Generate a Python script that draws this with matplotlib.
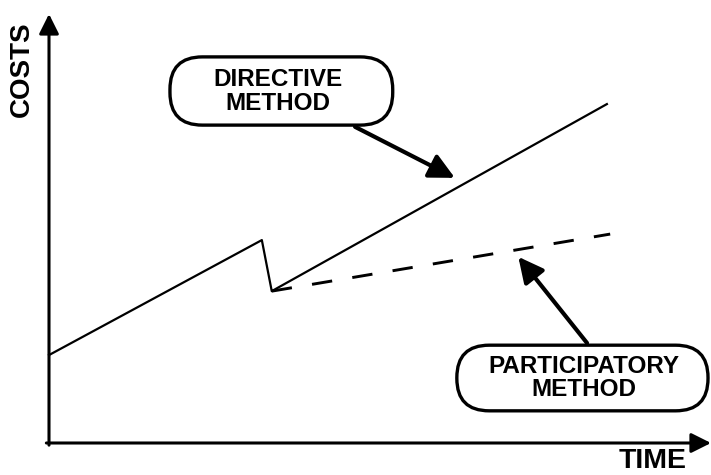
import matplotlib
matplotlib.use("Agg")
import matplotlib.pyplot as plt
from matplotlib.patches import FancyBboxPatch

# data (arbitrary units, axes span 0..100 on both)
time_directive = [0, 32.2, 33.7, 84.4]
cost_directive = [20.5, 47.3, 35.4, 79.0]
time_participatory = [33.7, 84.9]
cost_participatory = [35.4, 48.7]

labels = ["DIRECTIVE\nMETHOD", "PARTICIPATORY\nMETHOD"]
label_xy = [(34.6, 81.9), (80.9, 15.2)]
box_extent = [(18.3, 74.1, 33.7, 15.9), (61.7, 7.5, 38.0, 15.3)]  # x0, y0, w, h
arrow_from = [(46.3, 73.7), (81.4, 23.3)]
arrow_to = [(61.4, 61.8), (71.0, 43.4)]

plt.rcParams["font.family"] = ["Liberation Sans", "DejaVu Sans"]

fig = plt.figure(figsize=(7.11, 4.75), dpi=100)
ax = fig.add_axes([49 / 711, 32 / 475, 661 / 711, 429 / 475])
ax.set_xlim(0, 100)
ax.set_ylim(0, 100)
ax.axis("off")

# axes with arrow heads
ax.annotate("", xy=(0, 1), xytext=(0, -0.005), xycoords="axes fraction",
            arrowprops=dict(arrowstyle="-|>", lw=2.2, color="black",
                            mutation_scale=30, shrinkA=0, shrinkB=0))
ax.annotate("", xy=(1.0015, 0), xytext=(-0.004, 0), xycoords="axes fraction",
            arrowprops=dict(arrowstyle="-|>", lw=2.2, color="black",
                            mutation_scale=30, shrinkA=0, shrinkB=0))

ax.plot(time_directive, cost_directive, color="black", lw=1.6, clip_on=False)
ax.plot(time_participatory, cost_participatory, color="black", lw=2.1,
        linestyle=(0, (7, 7)), clip_on=False)

# x unit = 6.61 px, y unit = 4.29 px
aspect = 6.61 / 4.29
for (x0, y0, w, h), (tx, ty), lab, a0, a1 in zip(box_extent, label_xy, labels,
                                              arrow_from, arrow_to):
    ax.annotate("", xy=a1, xytext=a0,
                arrowprops=dict(arrowstyle="-|>", lw=3, color="black",
                                mutation_scale=38, shrinkA=0, shrinkB=0),
                zorder=2)
    box = FancyBboxPatch((x0, y0), w, h, boxstyle="round,pad=0,rounding_size=4.9",
                         mutation_aspect=aspect, facecolor="white",
                         edgecolor="black", lw=2.4, clip_on=False, zorder=3)
    ax.add_patch(box)
    ax.text(tx, ty, lab, ha="center", va="center", fontsize=17.5,
            fontweight="bold", linespacing=1.02, zorder=4)

fig.text(22 / 711, 1 - 69 / 475, "COSTS", rotation=90, ha="center", va="center",
         fontsize=20, fontweight="bold")
fig.text(653 / 711, 1 - 461 / 475, "TIME", ha="center", va="center",
         fontsize=20.5, fontweight="bold")

fig.savefig("out.png", dpi=100)
